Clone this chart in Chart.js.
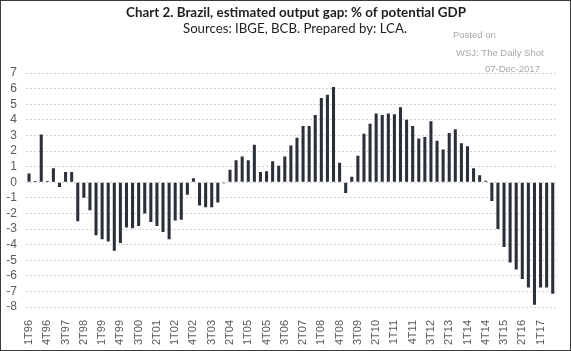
<!DOCTYPE html>
<html>
<head>
<meta charset="utf-8">
<script src="https://cdn.jsdelivr.net/npm/chart.js@4/dist/chart.umd.min.js"></script>
<style>
  html, body { margin: 0; padding: 0; background: #fff; }
  #wrap { width: 571px; height: 351px; position: relative; }
</style>
</head>
<body>
<div id="wrap"><canvas id="gapCanvas" width="571" height="351"></canvas></div>
<script>
const quarters = [
  "1T96","2T96","3T96","4T96","1T97","2T97","3T97","4T97",
  "1T98","2T98","3T98","4T98","1T99","2T99","3T99","4T99",
  "1T00","2T00","3T00","4T00","1T01","2T01","3T01","4T01",
  "1T02","2T02","3T02","4T02","1T03","2T03","3T03","4T03",
  "1T04","2T04","3T04","4T04","1T05","2T05","3T05","4T05",
  "1T06","2T06","3T06","4T06","1T07","2T07","3T07","4T07",
  "1T08","2T08","3T08","4T08","1T09","2T09","3T09","4T09",
  "1T10","2T10","3T10","4T10","1T11","2T11","3T11","4T11",
  "1T12","2T12","3T12","4T12","1T13","2T13","3T13","4T13",
  "1T14","2T14","3T14","4T14","1T15","2T15","3T15","4T15",
  "1T16","2T16","3T16","4T16","1T17","2T17","3T17"
];

const outputGap = [
  0.55, 0.07, 3.05, 0.07, 0.9, -0.3, 0.65, 0.65,
  -2.5, -1.0, -1.8, -3.4, -3.65, -3.8, -4.4, -3.9,
  -2.9, -2.95, -2.8, -2.0, -2.55, -2.8, -3.2, -3.65,
  -2.45, -2.4, -0.8, 0.25, -1.5, -1.6, -1.6, -1.3,
  -0.07, 0.8, 1.4, 1.65, 1.4, 2.4, 0.65, 0.7,
  1.35, 1.05, 1.65, 2.35, 2.85, 3.6, 3.6, 4.3,
  5.4, 5.6, 6.1, 1.25, -0.7, 0.35, 1.7, 3.1,
  3.75, 4.4, 4.3, 4.4, 4.35, 4.8, 4.0, 3.6,
  2.8, 2.9, 3.9, 2.65, 2.1, 3.15, 3.4, 2.5,
  2.3, 0.9, 0.45, 0.1, -1.2, -3.0, -4.15, -5.15,
  -5.6, -6.2, -6.75, -7.85, -6.75, -6.75, -7.15
];

const yMin = -8;
const yMax = 7;
const labelEvery = 3;

const titleText = "Chart 2. Brazil, estimated output gap: % of potential GDP";
const subtitleText = "Sources: IBGE, BCB. Prepared by: LCA.";
const stampLines = ["Posted on", "WSJ: The Daily Shot", "07-Dec-2017"];

// draws text squeezed/stretched to a given width
function fitText(ctx, text, cx, y, width) {
  const w = ctx.measureText(text).width;
  ctx.save();
  ctx.translate(cx, y);
  ctx.scale(width / w, 1);
  ctx.textAlign = "center";
  ctx.fillText(text, 0, 0);
  ctx.restore();
}

const decorPlugin = {
  id: "decor",
  beforeDraw(chart) {
    const c = chart.ctx;
    c.save();
    c.fillStyle = "#ffffff";
    c.fillRect(0, 0, chart.width, chart.height);
    c.restore();
  },
  afterDraw(chart) {
    const c = chart.ctx;
    c.save();
    c.fillStyle = "#1e1e1e";
    c.textBaseline = "alphabetic";
    c.font = "bold 14px Lato";
    fitText(c, titleText, 296, 17, 340);
    c.font = "14px Lato";
    fitText(c, subtitleText, 295, 32.5, 224);

    c.fillStyle = "#a8a8a8";
    c.font = "9.5px 'Liberation Sans'";
    c.textAlign = "left";
    c.fillText(stampLines[0], 453, 37.5);
    c.fillText(stampLines[1], 456, 55.5);
    c.fillText(stampLines[2], 485, 71.5);

    c.strokeStyle = "#3a3a3a";
    c.lineWidth = 1;
    c.strokeRect(0.5, 0.5, chart.width - 1, chart.height - 1);
    c.restore();
  }
};

const gapChart = new Chart(document.getElementById("gapCanvas"), {
  type: "bar",
  data: {
    labels: quarters,
    datasets: [{
      data: outputGap,
      backgroundColor: "#2a2f3a",
      borderWidth: 0,
      barPercentage: 0.5,
      categoryPercentage: 1.0
    }]
  },
  options: {
    responsive: false,
    animation: false,
    layout: { padding: { top: 73, right: 11, bottom: 0, left: 0 } },
    plugins: {
      legend: { display: false },
      tooltip: { enabled: false }
    },
    scales: {
      x: {
        offset: true,
        grid: { display: false },
        border: { display: false },
        afterFit(scale) { scale.height = 44; },
        ticks: {
          autoSkip: false,
          minRotation: 90,
          maxRotation: 90,
          padding: 5,
          color: "#5a5a5a",
          font: { family: "'Liberation Sans'", size: 11 },
          callback(value, index) {
            return index % labelEvery === 0 ? quarters[index] : "";
          }
        }
      },
      y: {
        min: yMin,
        max: yMax,
        afterFit(scale) { scale.width = 26; },
        grid: {
          color: "#d4d4d4",
          lineWidth: 1,
          drawTicks: false
        },
        border: { display: false, dash: [2, 2] },
        ticks: {
          stepSize: 1,
          autoSkip: false,
          padding: 9,
          color: "#5a5a5a",
          font: { family: "'Liberation Sans'", size: 12 }
        }
      }
    }
  },
  plugins: [decorPlugin]
});
</script>
</body>
</html>
